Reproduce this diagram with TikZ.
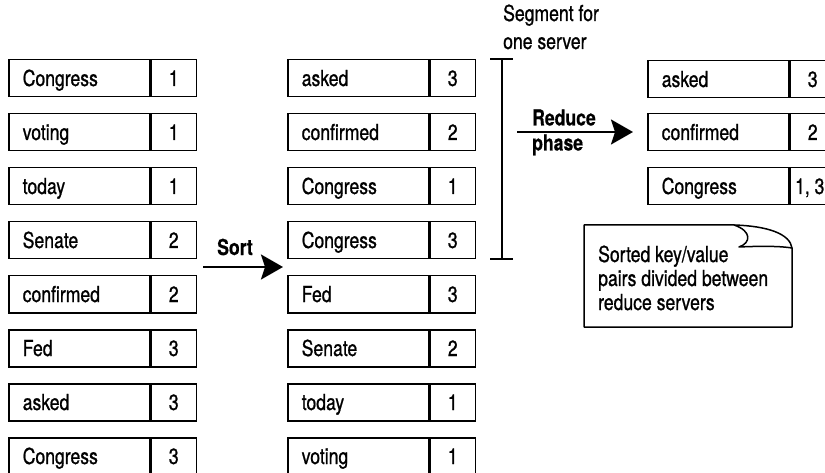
\documentclass[tikz,border=0pt]{standalone}
\usepackage{fontspec}
\setmainfont{TeX Gyre Heros}[FakeStretch=0.80, FakeBold=0.9,
  BoldFeatures={FakeBold=0.5}]
\usetikzlibrary{arrows.meta}

% one key/value record: name, x, y (top left), key, value
\newcommand\kvrecord[5]{%
  \node[keycell] (#1k) at (#2,#3) {#4};
  \node[valcell] (#1v) at (#1k.north east) {#5};
}

\begin{document}
\begin{tikzpicture}[x=1pt,y=-1pt,
  txt/.style={font=\fontsize{22}{24}\selectfont},
  boldtxt/.style={font=\fontsize{22}{25}\selectfont\bfseries},
  cell/.style={draw, line width=1.5pt, rectangle, anchor=north west,
    minimum height=37pt, inner ysep=0pt, text height=15.5pt, text depth=0pt,
    txt},
  keycell/.style={cell, text width=113pt, inner xsep=14pt, align=left},
  valcell/.style={cell, minimum width=45pt, inner xsep=0pt, align=center},
  flow/.style={line width=2pt, -{Stealth[length=22pt,width=25pt,inset=4pt]}},
  bracket/.style={line width=1.5pt}]
\useasboundingbox (0,0) rectangle (825,473);
\clip (0,0) rectangle (825,473);

% map output, unsorted
\kvrecord{a1}{8}{59}{Congress}{1}
\kvrecord{a2}{8}{113}{voting}{1}
\kvrecord{a3}{8}{167}{today}{1}
\kvrecord{a4}{8}{221}{Senate}{2}
\kvrecord{a5}{8}{275}{confirmed}{2}
\kvrecord{a6}{8}{329}{Fed}{3}
\kvrecord{a7}{8}{383}{asked}{3}
\kvrecord{a8}{8}{437}{Congress}{3}

% sorted records
\kvrecord{b1}{287}{59}{asked}{3}
\kvrecord{b2}{287}{113}{confirmed}{2}
\kvrecord{b3}{287}{167}{Congress}{1}
\kvrecord{b4}{287}{221}{Congress}{3}
\kvrecord{b5}{287}{275}{Fed}{3}
\kvrecord{b6}{287}{329}{Senate}{2}
\kvrecord{b7}{287}{383}{today}{1}
\kvrecord{b8}{287}{437}{voting}{1}

% reduced records
\kvrecord{c1}{647}{60}{asked}{3}
\kvrecord{c2}{647}{113}{confirmed}{2}
\kvrecord{c3}{647}{167}{Congress}{1, 3\hspace{6pt}}

% sort step
\coordinate (sortL) at (203,267);
\coordinate (sortR) at (283,267);
\draw[flow] (sortL) -- (sortR);
\node[boldtxt, anchor=base, inner sep=0pt] (sortlbl) at (235,255) {Sort};

% segment bracket
\coordinate (segT) at (502,59);
\coordinate (segB) at (502,259);
\draw[bracket] (segT) -- (segB);
\draw[bracket] ([xshift=-12pt]segT) -- ([xshift=11pt]segT);
\draw[bracket] ([xshift=-12pt]segB) -- ([xshift=11pt]segB);
\node[txt, anchor=base west, align=left, inner sep=0pt,
  font=\fontsize{22}{28}\selectfont] (seglbl) at (503,49)
  {Segment for\\one server};

% reduce step
\coordinate (redL) at (517,132);
\coordinate (redR) at (633,132);
\draw[flow] (redL) -- (redR);
\node[boldtxt, anchor=base west, align=left, inner sep=0pt] (redlbl)
  at (532,150.5) {Reduce\\phase};

% note with folded corner
\draw[line width=1.5pt, line join=round]
  (584,225) -- (734,225) .. controls (768,226) and (790,234) .. (792,248)
  -- (792,327) -- (584,327) -- cycle;
\draw[line width=1.5pt, line join=round]
  (734,225) .. controls (752,231) and (751,243) .. (739,247)
  .. controls (760,246) and (780,246) .. (792,248);
\node[txt, anchor=base west, align=left, inner sep=0pt,
  font=\fontsize{22}{24}\selectfont] (note) at (598,310)
  {Sorted key/value\\pairs divided between\\reduce servers};
\end{tikzpicture}
\end{document}
